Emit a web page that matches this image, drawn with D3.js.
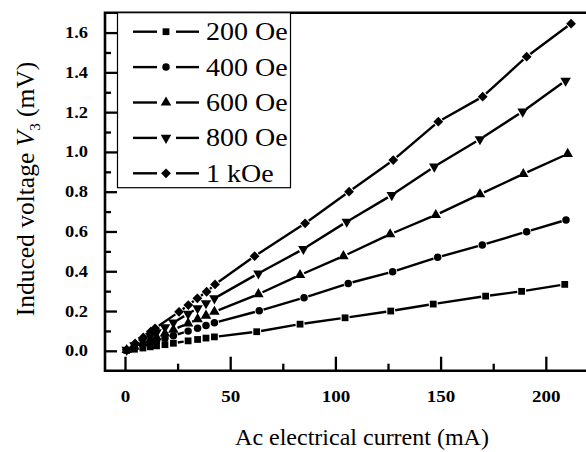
<!DOCTYPE html>
<html>
<head>
<meta charset="utf-8">
<script src="https://d3js.org/d3.v7.min.js"></script>
<style>
  body { margin: 0; background: #fff; }
  text { font-family: "Liberation Serif", "DejaVu Serif", serif; fill: #000; }
</style>
</head>
<body>
<svg id="chart" width="586" height="452"></svg>
<script>
// field labels (legend order)
var fields = ["200 Oe", "400 Oe", "600 Oe", "800 Oe", "1 kOe"];

// Ac current (mA) and induced voltage V3 (mV)
var current200 = [0.8, 4.5, 8.5, 12, 15, 19, 23, 30, 34.5, 38.5, 42.5, 62.6, 83.2, 104.6, 126.3, 146.5, 171.4, 188.5, 209];
var volt200    = [0.002, 0.008, 0.014, 0.020, 0.025, 0.031, 0.038, 0.050, 0.057, 0.064, 0.070, 0.096, 0.134, 0.166, 0.200, 0.235, 0.275, 0.299, 0.334];

var current400 = [0.8, 4.5, 8.5, 12, 15, 19, 23, 30, 34.5, 38.5, 42.5, 63.8, 85.1, 106.1, 127.2, 148.6, 169.8, 190.9, 209.6];
var volt400    = [0.003, 0.015, 0.028, 0.040, 0.050, 0.063, 0.076, 0.099, 0.114, 0.127, 0.141, 0.201, 0.267, 0.339, 0.398, 0.470, 0.532, 0.599, 0.658];

var current600 = [0.8, 4.5, 8.5, 12, 15, 19, 23, 30, 34.5, 38.5, 42.5, 63.4, 83.2, 103.8, 126, 147.7, 168.7, 189.3, 210.4];
var volt600    = [0.004, 0.021, 0.039, 0.055, 0.069, 0.087, 0.106, 0.138, 0.159, 0.177, 0.196, 0.285, 0.381, 0.476, 0.586, 0.683, 0.787, 0.889, 0.990];

var current800 = [0.8, 4.5, 8.5, 12, 15, 19, 23, 30, 34.5, 38.5, 42.5, 63.4, 84.8, 105.4, 126.8, 147, 168.7, 189, 209.4];
var volt800    = [0.005, 0.028, 0.053, 0.074, 0.093, 0.118, 0.142, 0.186, 0.214, 0.239, 0.264, 0.389, 0.512, 0.649, 0.783, 0.926, 1.064, 1.203, 1.358];

var current1k  = [0.8, 4.8, 8.7, 12.2, 14.3, 25.7, 30.1, 34.4, 38.8, 42.8, 61.6, 85.6, 106.5, 127.5, 148.9, 170, 190.9, 212];
var volt1k     = [0.005, 0.037, 0.067, 0.096, 0.113, 0.196, 0.230, 0.264, 0.297, 0.334, 0.476, 0.641, 0.800, 0.959, 1.152, 1.278, 1.479, 1.645];

var xTicks = [0, 50, 100, 150, 200];
var yTicks = [0.0, 0.2, 0.4, 0.6, 0.8, 1.0, 1.2, 1.4, 1.6];

var series = [
    {name: fields[0], xs: current200, ys: volt200, shape: "square"},
    {name: fields[1], xs: current400, ys: volt400, shape: "circle"},
    {name: fields[2], xs: current600, ys: volt600, shape: "up"},
    {name: fields[3], xs: current800, ys: volt800, shape: "down"},
    {name: fields[4], xs: current1k,  ys: volt1k,  shape: "diamond"}
];

var svg = d3.select("#chart");
var margin = {top: 12.7, right: 0, bottom: 81.3, left: 105},
    width = +svg.attr("width"),
    height = +svg.attr("height");

var x = d3.scaleLinear()
    .domain([-9.5, 219.1])
    .range([margin.left, width - margin.right]);

var y = d3.scaleLinear()
    .domain([-0.1, 1.7])
    .range([height - margin.bottom, margin.top]);

function symbolPath(shape) {
    if (shape == "square") return d3.symbol(d3.symbolSquare, 46)();
    if (shape == "circle") return d3.symbol(d3.symbolCircle, 44)();
    if (shape == "diamond") return d3.symbol(d3.symbolSquare, 48)();
    return d3.symbol(d3.symbolTriangle, 48)();
}
function symbolRotate(shape) {
    if (shape == "diamond") return 45;
    if (shape == "down") return 180;
    return 0;
}

// lines with little gaps around every marker
var gap = 4.5;
series.forEach(function (s) {
    var pts = s.xs.map((v, i) => [x(v), y(s.ys[i])]);
    var g = svg.append("g").attr("class", "series");
    for (var i = 1; i < pts.length; i++) {
        var a = pts[i - 1], b = pts[i];
        var dx = b[0] - a[0], dy = b[1] - a[1];
        var len = Math.sqrt(dx * dx + dy * dy);
        if (len <= 2 * gap + 1) continue;
        var ux = dx / len, uy = dy / len;
        g.append("line")
            .attr("x1", a[0] + ux * gap).attr("y1", a[1] + uy * gap)
            .attr("x2", b[0] - ux * gap).attr("y2", b[1] - uy * gap)
            .attr("stroke", "#000")
            .attr("stroke-width", 2.4);
    }
    g.selectAll("path")
        .data(pts)
        .enter().append("path")
        .attr("d", symbolPath(s.shape))
        .attr("transform", d => "translate(" + d[0] + "," + d[1] + ") rotate(" + symbolRotate(s.shape) + ")")
        .attr("fill", "#000");
});

// frame
var x0 = margin.left, x1 = width + 2, y0 = margin.top, y1 = height - margin.bottom;
svg.append("path")
    .attr("d", "M" + x1 + "," + y0 + "H" + x0 + "V" + y1 + "H" + x1)
    .attr("fill", "none")
    .attr("stroke", "#000")
    .attr("stroke-width", 2.6);

// x axis, ticks pointing inwards
var xAxis = svg.append("g")
    .attr("transform", "translate(0," + y1 + ")")
    .call(d3.axisBottom(x).tickValues(xTicks).tickSize(-14).tickSizeOuter(0).tickFormat(d3.format("d")));
xAxis.select(".domain").remove();
xAxis.selectAll(".tick line").attr("stroke-width", 2.3);
xAxis.selectAll(".tick text")
    .attr("y", 0).attr("dy", 0)
    .attr("font-size", 17).attr("font-weight", "bold")
    .attr("transform", "translate(0,31) scale(1.12,1)");

var xMinor = svg.append("g")
    .attr("transform", "translate(0," + y1 + ")")
    .call(d3.axisBottom(x).tickValues([25, 75, 125, 175]).tickSize(-7).tickFormat(""));
xMinor.select(".domain").remove();
xMinor.selectAll(".tick line").attr("stroke-width", 2.3);

// y axis
var yAxis = svg.append("g")
    .attr("transform", "translate(" + x0 + ",0)")
    .call(d3.axisLeft(y).tickValues(yTicks).tickSize(-12).tickSizeOuter(0).tickFormat(d3.format(".1f")));
yAxis.select(".domain").remove();
yAxis.selectAll(".tick line").attr("stroke-width", 2.3);
yAxis.selectAll(".tick text").remove();

svg.append("g").selectAll("text")
    .data(yTicks)
    .enter().append("text")
    .attr("transform", d => "translate(88," + (y(d) + 5.5) + ") scale(1.15,1)")
    .attr("text-anchor", "end")
    .attr("font-size", 16)
    .attr("font-weight", "bold")
    .text(d3.format(".1f"));

var yMinor = svg.append("g")
    .attr("transform", "translate(" + x0 + ",0)")
    .call(d3.axisLeft(y).tickValues([0.1, 0.3, 0.5, 0.7, 0.9, 1.1, 1.3, 1.5]).tickSize(-6).tickFormat(""));
yMinor.select(".domain").remove();
yMinor.selectAll(".tick line").attr("stroke-width", 2.3);

// axis titles
svg.append("text")
    .attr("x", 362).attr("y", 445)
    .attr("text-anchor", "middle")
    .attr("font-size", 24)
    .text("Ac electrical current (mA)");

var yt = svg.append("text")
    .attr("transform", "translate(34,189) rotate(-90)")
    .attr("text-anchor", "middle")
    .attr("font-size", 25.5);
yt.append("tspan").text("Induced voltage ");
yt.append("tspan").attr("font-style", "italic").text("V");
yt.append("tspan").attr("font-size", 15).attr("dy", 6).text("3");
yt.append("tspan").attr("dy", -6).text(" (mV)");

// legend
var legend = svg.append("g");
legend.append("rect")
    .attr("x", 117.5).attr("y", y0)
    .attr("width", 173).attr("height", 175)
    .attr("fill", "#fff")
    .attr("stroke", "#000")
    .attr("stroke-width", 1.2);

var rowY = d3.scaleLinear().domain([0, 4]).range([31.7, 173.3]);
series.forEach(function (s, i) {
    var ly = rowY(i);
    var row = legend.append("g");
    row.append("line").attr("x1", 133).attr("x2", 157).attr("y1", ly).attr("y2", ly)
        .attr("stroke", "#000").attr("stroke-width", 2.4);
    row.append("line").attr("x1", 176).attr("x2", 199).attr("y1", ly).attr("y2", ly)
        .attr("stroke", "#000").attr("stroke-width", 2.4);
    row.append("path")
        .attr("d", symbolPath(s.shape))
        .attr("transform", "translate(166," + ly + ") rotate(" + symbolRotate(s.shape) + ")")
        .attr("fill", "#000");
    row.append("text")
        .attr("transform", "translate(206," + (ly + 8.5) + ") scale(1.12,1)")
        .attr("font-size", 25)
        .text(s.name);
});
</script>
</body>
</html>
